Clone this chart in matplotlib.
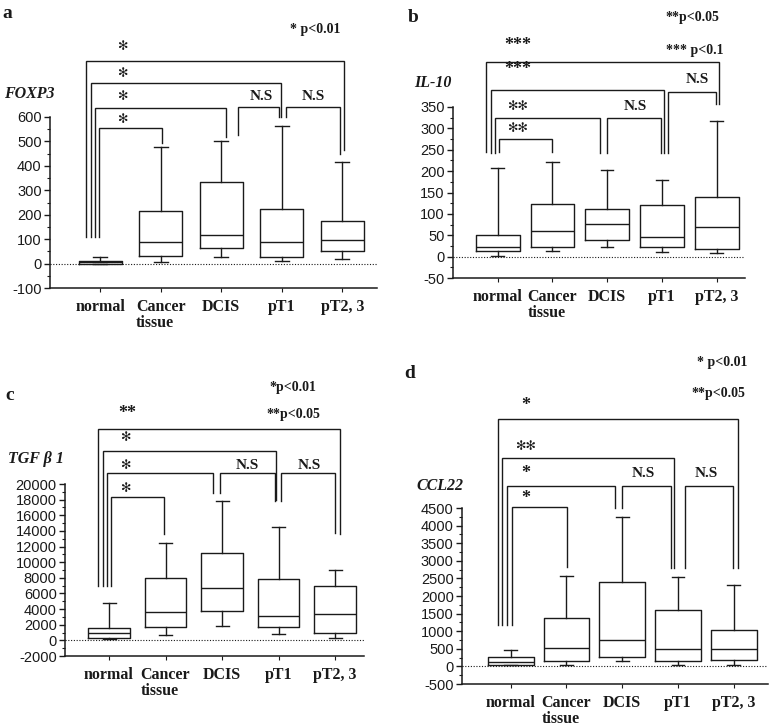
import matplotlib
matplotlib.use('Agg')
import matplotlib.pyplot as plt
from matplotlib.ticker import MultipleLocator, AutoMinorLocator

plt.rcParams['axes.unicode_minus'] = False

W, H = 771, 726
INK = '#1a1a1a'
SERIF = 'Liberation Serif'
SANS = 'Liberation Sans'

groups = ['normal', 'Cancer\ntissue', 'DCIS', 'pT1', 'pT2, 3']

# a - FOXP3
foxp3_lo = [0, 8, 28, 10, 18]
foxp3_q1 = [0, 30, 65, 27, 50]
foxp3_med = [5, 90, 115, 90, 98]
foxp3_q3 = [10, 215, 335, 222, 175]
foxp3_hi = [25, 478, 500, 562, 414]

# b - IL-10
il10_lo = [2, 12, 22, 10, 8]
il10_q1 = [12, 23, 38, 23, 18]
il10_med = [22, 60, 77, 47, 70]
il10_q3 = [50, 122, 112, 120, 140]
il10_hi = [208, 221, 202, 180, 318]

# c - TGF beta 1
tgf_lo = [200, 700, 1800, 800, 250]
tgf_q1 = [350, 1700, 3800, 1700, 1000]
tgf_med = [1000, 3600, 6700, 3100, 3400]
tgf_q3 = [1600, 8000, 11200, 7900, 6900]
tgf_hi = [4800, 12400, 17800, 14500, 9000]

# d - CCL22
ccl22_lo = [30, 50, 150, 30, 50]
ccl22_q1 = [50, 150, 280, 140, 190]
ccl22_med = [130, 510, 750, 500, 500]
ccl22_q3 = [280, 1370, 2400, 1600, 1030]
ccl22_hi = [460, 2580, 4250, 2530, 2320]

SPOKE = '\u273b'


def fig_xy(px, py):
    return px / W, 1 - py / H


def draw_bracket(ax, xl, xr, ybar, yl, yr, label, lx, ly):
    ax.plot([xl, xl, xr, xr], [yl, ybar, ybar, yr], color=INK, lw=1.0,
            clip_on=False, solid_joinstyle='miter')
    if SPOKE in label:
        ax.text(lx, ly, label, ha='center', va='center', fontsize=9,
                family='DejaVu Sans', color=INK, clip_on=False)
    elif label == 'N.S':
        ax.text(lx, ly, label, ha='center', va='center', fontsize=11,
                family=SERIF, fontweight='bold', color=INK, clip_on=False)
    else:
        # small solid stars
        ax.text(lx, ly, label, ha='center', va='center', fontsize=13,
                family=SERIF, fontweight='bold', color=INK, clip_on=False)


def panel(rect_px, lo, q1, med, q3, hi, xlim, ylim, ystep, bw,
          brackets, notes, letter, letter_xy, ylab, ylab_xy):
    left, right, top, bottom = rect_px
    ax = fig.add_axes([left / W, 1 - bottom / H, (right - left) / W,
                       (bottom - top) / H])
    stats = [dict(whislo=a, q1=b, med=c, q3=d, whishi=e, fliers=[])
             for a, b, c, d, e in zip(lo, q1, med, q3, hi)]
    pos = list(range(1, len(groups) + 1))
    lp = dict(color=INK, lw=1.0)
    ax.bxp(stats, positions=pos, widths=bw, showfliers=False,
           boxprops=lp, whiskerprops=lp, capprops=lp, medianprops=lp,
           capwidths=0.23)
    ax.axhline(0, color=INK, lw=0.8, ls=(0, (1, 1.5)))
    ax.set_xlim(*xlim)
    ax.set_ylim(*ylim)
    ax.yaxis.set_major_locator(MultipleLocator(ystep))
    ax.yaxis.set_minor_locator(AutoMinorLocator(2))
    ax.spines['top'].set_visible(False)
    ax.spines['right'].set_visible(False)
    for s in ('left', 'bottom'):
        ax.spines[s].set_linewidth(1.1)
        ax.spines[s].set_color(INK)
    ax.set_xticks(pos, groups)
    for t in ax.get_xticklabels():
        t.set_fontfamily(SERIF)
        t.set_fontweight('bold')
        t.set_fontsize(11.5)
        t.set_multialignment('left')
        t.set_linespacing(1.0)
    for t in ax.get_yticklabels():
        t.set_fontfamily(SANS)
        t.set_fontsize(10.5)
    ax.tick_params(axis='x', length=3, width=0.8, pad=5, colors=INK)
    ax.tick_params(axis='y', which='major', length=4, width=1.0, pad=2,
                   colors=INK)
    ax.tick_params(axis='y', which='minor', length=2, width=0.8, colors=INK)
    for b in brackets:
        draw_bracket(ax, *b)
    for x, y, s in notes:
        ax.text(x, y, s, ha='center', va='center', fontsize=10, family=SERIF,
                fontweight='bold', color=INK, clip_on=False)
    fx, fy = fig_xy(*letter_xy)
    fig.text(fx, fy, letter, ha='center', va='center', fontsize=14,
             family=SERIF, fontweight='bold', color=INK)
    fx, fy = fig_xy(*ylab_xy)
    fig.text(fx, fy, ylab, ha='center', va='center', fontsize=11.5,
             family=SERIF, fontweight='bold', style='italic', color=INK)
    return ax


fig = plt.figure(figsize=(W / 100, H / 100), dpi=100)

# (xl, xr, ybar, yl, yr, label, lx, ly)
panel((50, 377, 117, 288), foxp3_lo, foxp3_q1, foxp3_med, foxp3_q3, foxp3_hi,
      (0.17, 5.575), (-100, 600), 100, 0.71,
      [(0.765, 5.03, 829, 110, 465, SPOKE, 1.36, 887),
       (0.848, 3.99, 739, 110, 600, SPOKE, 1.36, 780),
       (0.914, 3.08, 637, 110, 518, SPOKE, 1.36, 682),
       (0.980, 2.02, 555, 110, 493, SPOKE, 1.36, 588),
       (3.28, 3.955, 641, 526, 600, 'N.S', 3.66, 682),
       (4.07, 4.96, 641, 600, 449, 'N.S', 4.53, 682)],
      [(4.55, 960, '* p<0.01')],
      'a', (7, 13), 'FOXP3', (29, 94))

panel((453, 745, 107, 278), il10_lo, il10_q1, il10_med, il10_q3, il10_hi,
      (0.184, 5.517), (-50, 350), 50, 0.8,
      [(0.788, 5.04, 455, 245, 357, '***', 1.37, 495),
       (0.878, 4.04, 390, 242, 242, '***', 1.37, 437),
       (0.95, 2.87, 324, 242, 242, SPOKE * 2, 1.37, 350),
       (1.02, 1.99, 275, 245, 245, SPOKE * 2, 1.37, 300),
       (3.0, 3.98, 324, 242, 242, 'N.S', 3.51, 350),
       (4.11, 4.99, 385, 242, 357, 'N.S', 4.64, 415)],
      [(4.55, 560, '**p<0.05'), (4.6, 481, '*** p<0.1')],
      'b', (413, 17), 'IL-10', (433, 83))

panel((65, 364, 484, 656), tgf_lo, tgf_q1, tgf_med, tgf_q3, tgf_hi,
      (0.221, 5.513), (-2000, 20000), 2000, 0.74,
      [(0.805, 5.09, 27040, 6960, 13610, '**', 1.32, 28960),
       (0.894, 3.96, 24230, 6960, 17960, SPOKE, 1.28, 25890),
       (0.965, 2.84, 21410, 6960, 18850, SPOKE, 1.28, 22310),
       (1.035, 1.97, 18340, 6960, 13610, SPOKE, 1.28, 19370),
       (2.96, 3.94, 21410, 18850, 17830, 'N.S', 3.44, 22430),
       (4.04, 5.0, 21410, 17830, 13740, 'N.S', 4.54, 22430)],
      [(4.26, 32400, '*p<0.01'), (4.26, 28830, '**p<0.05')],
      'c', (10, 396), 'TGF \u03b2 1', (36, 459))

panel((462, 768, 508, 684), ccl22_lo, ccl22_q1, ccl22_med, ccl22_q3, ccl22_hi,
      (0.126, 5.615), (-500, 4500), 500, 0.82,
      [(0.772, 5.08, 7020, 1176, 2795, '*', 1.27, 7425),
       (0.844, 3.93, 5920, 1176, 2795, SPOKE * 2, 1.27, 6250),
       (0.934, 2.87, 5125, 1176, 4500, '*', 1.27, 5490),
       (1.02, 2.01, 4528, 1176, 2824, '*', 1.27, 4756),
       (3.0, 3.88, 5125, 4500, 2795, 'N.S', 3.37, 5490),
       (4.13, 4.99, 5125, 2795, 2795, 'N.S', 4.5, 5490)],
      [(4.79, 8645, '* p<0.01'), (4.73, 7765, '**p<0.05')],
      'd', (410, 373), 'CCL22', (440, 486))

fig.savefig('out.png', dpi=100)
